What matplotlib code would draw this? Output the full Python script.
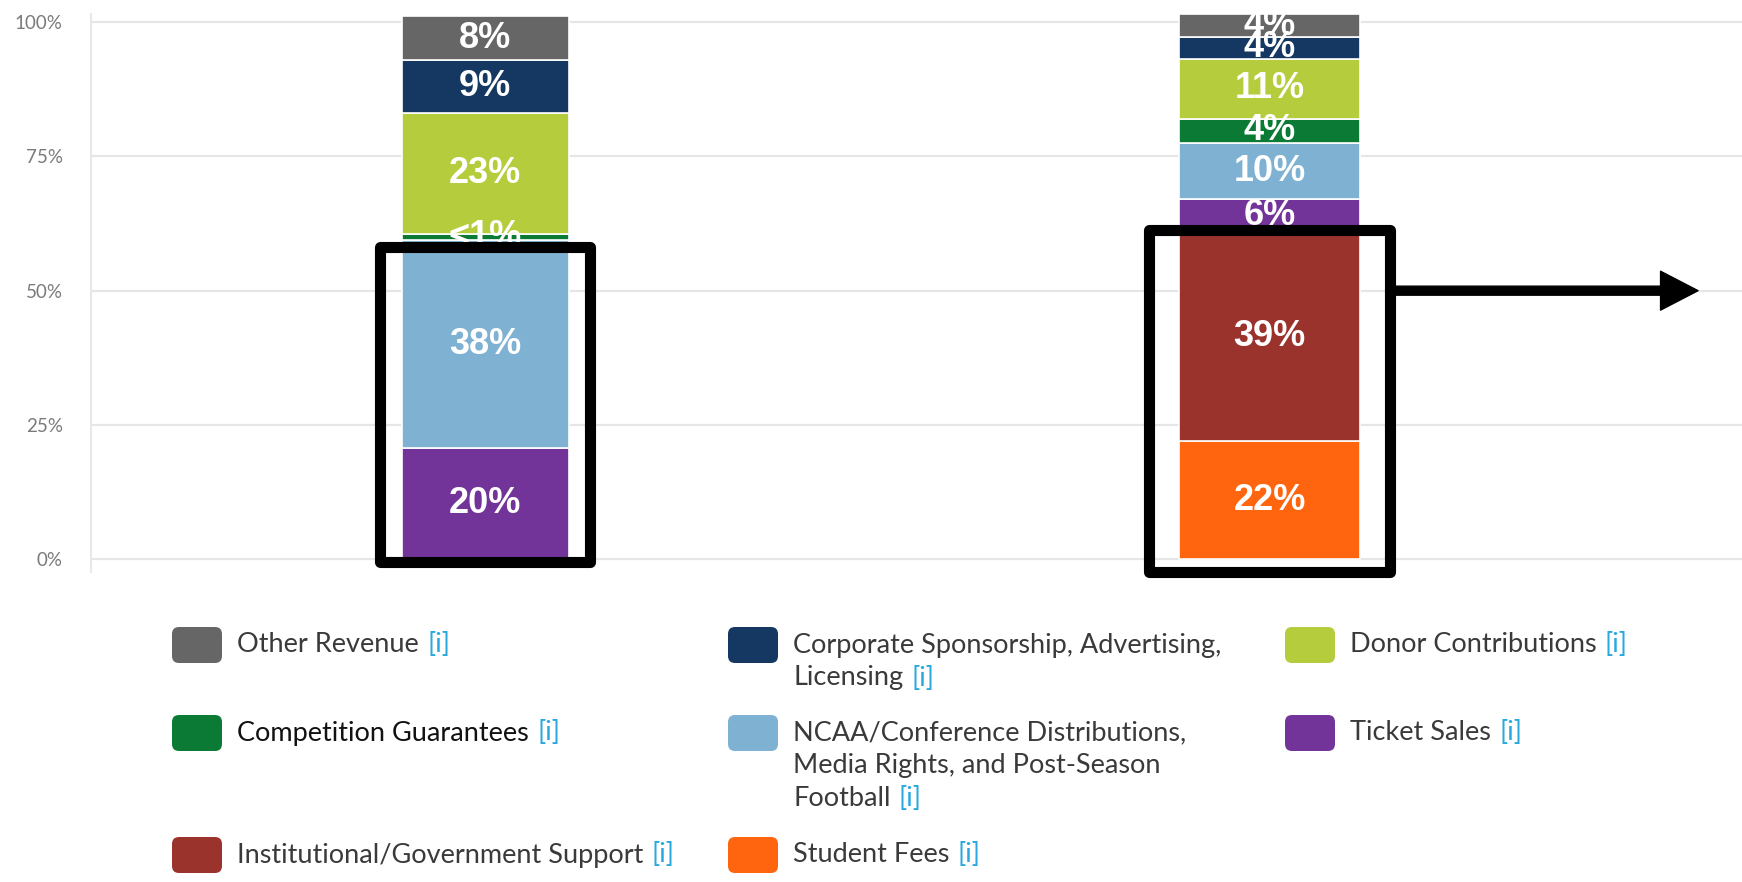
import numpy as np
import matplotlib.pyplot as plt
from matplotlib.patches import Rectangle, FancyBboxPatch
from matplotlib.transforms import IdentityTransform

# stacked from the bottom up
categories = ['Student Fees', 'Institutional/Government Support', 'Ticket Sales',
              'NCAA/Conference Distributions,\nMedia Rights, and Post-Season\nFootball',
              'Competition Guarantees', 'Donor Contributions',
              'Corporate Sponsorship, Advertising,\nLicensing', 'Other Revenue']
colors = ['#ff650e', '#9b332d', '#733499', '#7fb2d2', '#0b7a35', '#b5cc3c', '#143862', '#666666']
left_vals = [0, 0, 20.7, 38.7, 1.2, 22.5, 9.8, 8.2]
right_vals = [22, 39, 6, 10.5, 4.5, 11.2, 4.1, 4.2]
left_labels = ['', '', '20%', '38%', '<1%', '23%', '9%', '8%']
right_labels = ['22%', '39%', '6%', '10%', '4%', '11%', '4%', '4%']
yticks = [0, 25, 50, 75, 100]
ytick_labels = ['0%', '25%', '50%', '75%', '100%']

bars = [left_vals, right_vals]
bar_labels = [left_labels, right_labels]
xpos = [0, 1]
widths = [0.213, 0.231]

fig = plt.figure(figsize=(17.42, 8.82), dpi=100)
ax = fig.add_axes([0.052, 0.352, 0.948, 0.632])
ax.set_xlim(-0.503, 1.602)
ax.set_ylim(-2.3, 101.5)

# grid + axis styling
for y in yticks:
  ax.axhline(y, color='#e6e6e6', lw=1.6, zorder=0)
ax.set_yticks(yticks)
ax.set_yticklabels(ytick_labels, family='Lato', fontsize=13.5, color='#7a7a7a')
ax.tick_params(axis='y', length=0, pad=20)
ax.set_xticks([])
for s in ['top', 'right', 'bottom']:
  ax.spines[s].set_visible(False)
ax.spines['left'].set_color('#e8e8e8')
ax.spines['left'].set_linewidth(1.5)

### Bars ###
for b, vals in enumerate(bars):
  bottom = 0
  for i, v in enumerate(vals):
    if v > 0:
      ax.bar(xpos[b], v, bottom=bottom, width=widths[b], color=colors[i],
             edgecolor='white', linewidth=1.2, zorder=2, clip_on=False)
      ax.text(xpos[b], bottom + v / 2, bar_labels[b][i], ha='center', va='center',
              color='white', fontweight='bold', fontsize=26, family='Liberation Sans', zorder=3)
    bottom += v

### Highlight boxes ###
box_pad = [0.027, 0.038]
box_bottom = [-0.5, -2.3]
box_extra = [-1.2, 0.3]
for b, vals in enumerate(bars):
  nonzero = [v for v in vals if v > 0]
  top = sum(nonzero[:2]) + box_extra[b]
  x0 = xpos[b] - widths[b] / 2 - box_pad[b]
  rect = Rectangle((x0, box_bottom[b]), widths[b] + 2 * box_pad[b], top - box_bottom[b],
                   fill=False, edgecolor='black', linewidth=8, joinstyle='round',
                   zorder=5, clip_on=False)
  ax.add_patch(rect)

# arrow from the right box
right_edge = xpos[1] + widths[1] / 2 + box_pad[1]
ax.annotate('', xy=(1.546, 50), xytext=(right_edge, 50),
            arrowprops=dict(facecolor='black', edgecolor='black', width=6.5,
                            headwidth=28, headlength=27, shrink=0), zorder=5)

### Legend ###
legend_order = [7, 6, 5, 4, 3, 2, 1, 0]
col_x = [172, 728, 1285]
row_y = [645, 733, 855]
line_h = 33
for k, idx in enumerate(legend_order):
  c, r = k % 3, k // 3
  sx, sy = col_x[c], 882 - row_y[r]
  sw = FancyBboxPatch((sx, sy - 18), 50, 36, boxstyle='round,pad=0,rounding_size=7',
                      transform=IdentityTransform(), facecolor=colors[idx], edgecolor='none')
  fig.patches.append(sw)
  lines = categories[idx].split('\n')
  txt_color = '#111111' if categories[idx] == 'Competition Guarantees' else '#3a3a3a'
  t = None
  for j, line in enumerate(lines):
    t = fig.text((sx + 65) / 1742, (sy - j * line_h) / 882, line, ha='left', va='center',
                 family='Lato', fontsize=19.5, color=txt_color)
  ax.annotate('[i]', xy=(1, 0), xycoords=t, xytext=(6, 0), textcoords='offset points',
              ha='left', va='bottom', family='Lato', fontsize=19.5, color='#29a8e0')

fig.savefig('out.png', dpi=100)
